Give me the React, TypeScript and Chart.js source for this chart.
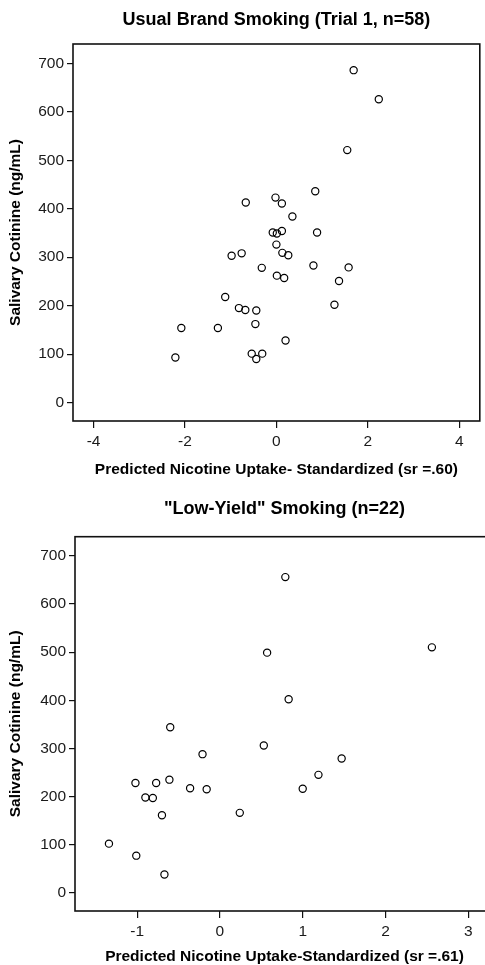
import React, { useEffect, useRef } from "react";
import { Chart, registerables } from "chart.js";

Chart.register(...registerables);

const FONT = "'Liberation Sans', Arial, Helvetica, sans-serif";

const Y_LABEL = "Salivary Cotinine (ng/mL)";
const Y_TICKS = [0, 100, 200, 300, 400, 500, 600, 700];

// Panel 1: Usual brand smoking
const TITLE_1 = "Usual Brand Smoking (Trial 1, n=58)";
const X_LABEL_1 = "Predicted Nicotine Uptake- Standardized (sr =.60)";
const X_TICKS_1 = [-4, -2, 0, 2, 4];
const X_1 = [
  1.69, 2.24, 1.55, 0.85, -0.67, -0.02, 0.12, 0.35,
  -0.08, 0.01, 0.12, 0.89, 0.0, -0.98, -0.76, 0.13, 0.26, -0.32,
  0.81, 1.58, 0.01, 0.17, 1.37, -1.12, -0.82, -0.68, -0.44, 1.27,
  -2.08, -1.28, -0.46, 0.2, -2.21, -0.54, -0.31, -0.44,
];
const Y_1 = [
  686, 626, 521, 436, 413, 423, 411, 384,
  351, 349, 354, 351, 326, 303, 308, 309, 304, 278,
  283, 279, 262, 257, 251, 218, 195, 191, 190, 202,
  154, 154, 162, 128, 93, 101, 101, 90,
];

// Panel 2: Low-yield smoking
const TITLE_2 = "\"Low-Yield\" Smoking (n=22)";
const X_LABEL_2 = "Predicted Nicotine Uptake-Standardized (sr =.61)";
const X_TICKS_2 = [-1, 0, 1, 2, 3];
const X_2 = [
  0.79, 0.57, 2.56, 0.83, -0.6, 0.53, -0.21, 1.47, -1.02, -0.77, -0.61,
  1.19, -0.36, -0.16, 1.0, -0.9, -0.81, -0.7, 0.24, -1.34, -1.01, -0.67,
];
const Y_2 = [
  656, 499, 510, 402, 344, 306, 288, 279, 228, 228, 235,
  245, 217, 215, 216, 198, 197, 161, 166, 102, 77, 38,
];

type PanelProps = {
  top: number;
  width: number;
  height: number;
  title: string;
  xLabel: string;
  xs: number[];
  ys: number[];
  xTicks: number[];
  xMin: number;
  xMax: number;
  left: number;
  padRight: number;
  titlePadTop: number;
  titlePadBottom: number;
  xScaleHeight: number;
  xTitlePadBottom: number;
};

const framePlugin = {
  id: "frame",
  afterDatasetsDraw(chart: any) {
    const { ctx, chartArea } = chart;
    ctx.save();
    ctx.strokeStyle = "#111";
    ctx.lineWidth = 1.6;
    ctx.strokeRect(
      chartArea.left,
      chartArea.top,
      chartArea.right - chartArea.left,
      chartArea.bottom - chartArea.top
    );
    ctx.restore();
  },
};

function Panel(p: PanelProps) {
  const ref = useRef<HTMLCanvasElement | null>(null);
  useEffect(() => {
    if (!ref.current) return;
    const tickFont = { family: FONT, size: 15.5 };
    const axisTitleFont = { family: FONT, size: 15.5, weight: "bold", lineHeight: 1.2 };
    const chart = new Chart(ref.current, {
      type: "scatter",
      data: {
        datasets: [
          {
            data: p.xs.map((x, i) => ({ x, y: p.ys[i] })),
            pointStyle: "circle",
            pointRadius: 3.6,
            pointBorderWidth: 1.2,
            pointBorderColor: "#000",
            pointBackgroundColor: "rgba(255,255,255,0)",
          } as any,
        ],
      },
      options: {
        animation: false,
        responsive: false,
        events: [],
        layout: { padding: { left: 0, top: 0, right: p.padRight, bottom: 0 } },
        plugins: {
          legend: { display: false },
          tooltip: { enabled: false },
          title: {
            display: true,
            text: p.title,
            fullSize: false,
            color: "#000",
            font: { family: FONT, size: 18, weight: "bold", lineHeight: 1.2 },
            padding: { top: p.titlePadTop, bottom: p.titlePadBottom },
          },
        },
        scales: {
          x: {
            type: "linear",
            min: p.xMin,
            max: p.xMax,
            afterBuildTicks: (s: any) => {
              s.ticks = p.xTicks.map((v) => ({ value: v }));
            },
            afterFit: (s: any) => {
              s.height = p.xScaleHeight;
            },
            grid: {
              drawOnChartArea: false,
              drawTicks: true,
              tickLength: 7,
              color: "#111",
              lineWidth: 1.2,
            },
            border: { display: false },
            ticks: { font: tickFont, color: "#1a1a1a", padding: 4, maxRotation: 0 },
            title: {
              display: true,
              text: p.xLabel,
              color: "#000",
              font: axisTitleFont,
              padding: { top: 0, bottom: p.xTitlePadBottom },
            },
          },
          y: {
            type: "linear",
            min: -38,
            max: 740,
            afterBuildTicks: (s: any) => {
              s.ticks = Y_TICKS.map((v) => ({ value: v }));
            },
            afterFit: (s: any) => {
              s.width = p.left;
            },
            grid: {
              drawOnChartArea: false,
              drawTicks: true,
              tickLength: 6,
              color: "#111",
              lineWidth: 1.2,
            },
            border: { display: false },
            ticks: { font: tickFont, color: "#1a1a1a", padding: 3 },
            title: {
              display: true,
              text: Y_LABEL,
              color: "#000",
              font: axisTitleFont,
              padding: { top: 6.5, bottom: 0 },
            },
          },
        },
      } as any,
      plugins: [framePlugin],
    });
    return () => chart.destroy();
  }, []);
  return (
    <canvas
      ref={ref}
      width={p.width}
      height={p.height}
      style={{
        position: "absolute",
        left: 0,
        top: p.top,
        width: p.width,
        height: p.height,
        display: "block",
      }}
    />
  );
}

export default function App() {
  return (
    <div
      style={{
        position: "absolute",
        left: 0,
        top: 0,
        width: 485,
        height: 965,
        overflow: "hidden",
        background: "#fff",
      }}
    >
      <Panel
        top={0}
        width={485}
        height={485}
        title={TITLE_1}
        xLabel={X_LABEL_1}
        xs={X_1}
        ys={Y_1}
        xTicks={X_TICKS_1}
        xMin={-4.45}
        xMax={4.45}
        left={73}
        padRight={4}
        titlePadTop={9}
        titlePadBottom={13.4}
        xScaleHeight={64}
        xTitlePadBottom={6}
      />
      <Panel
        top={485}
        width={500}
        height={482}
        title={TITLE_2}
        xLabel={X_LABEL_2}
        xs={X_2}
        ys={Y_2}
        xTicks={X_TICKS_2}
        xMin={-1.75}
        xMax={3.31}
        left={75}
        padRight={6}
        titlePadTop={13}
        titlePadBottom={17.1}
        xScaleHeight={56}
        xTitlePadBottom={0.5}
      />
    </div>
  );
}
